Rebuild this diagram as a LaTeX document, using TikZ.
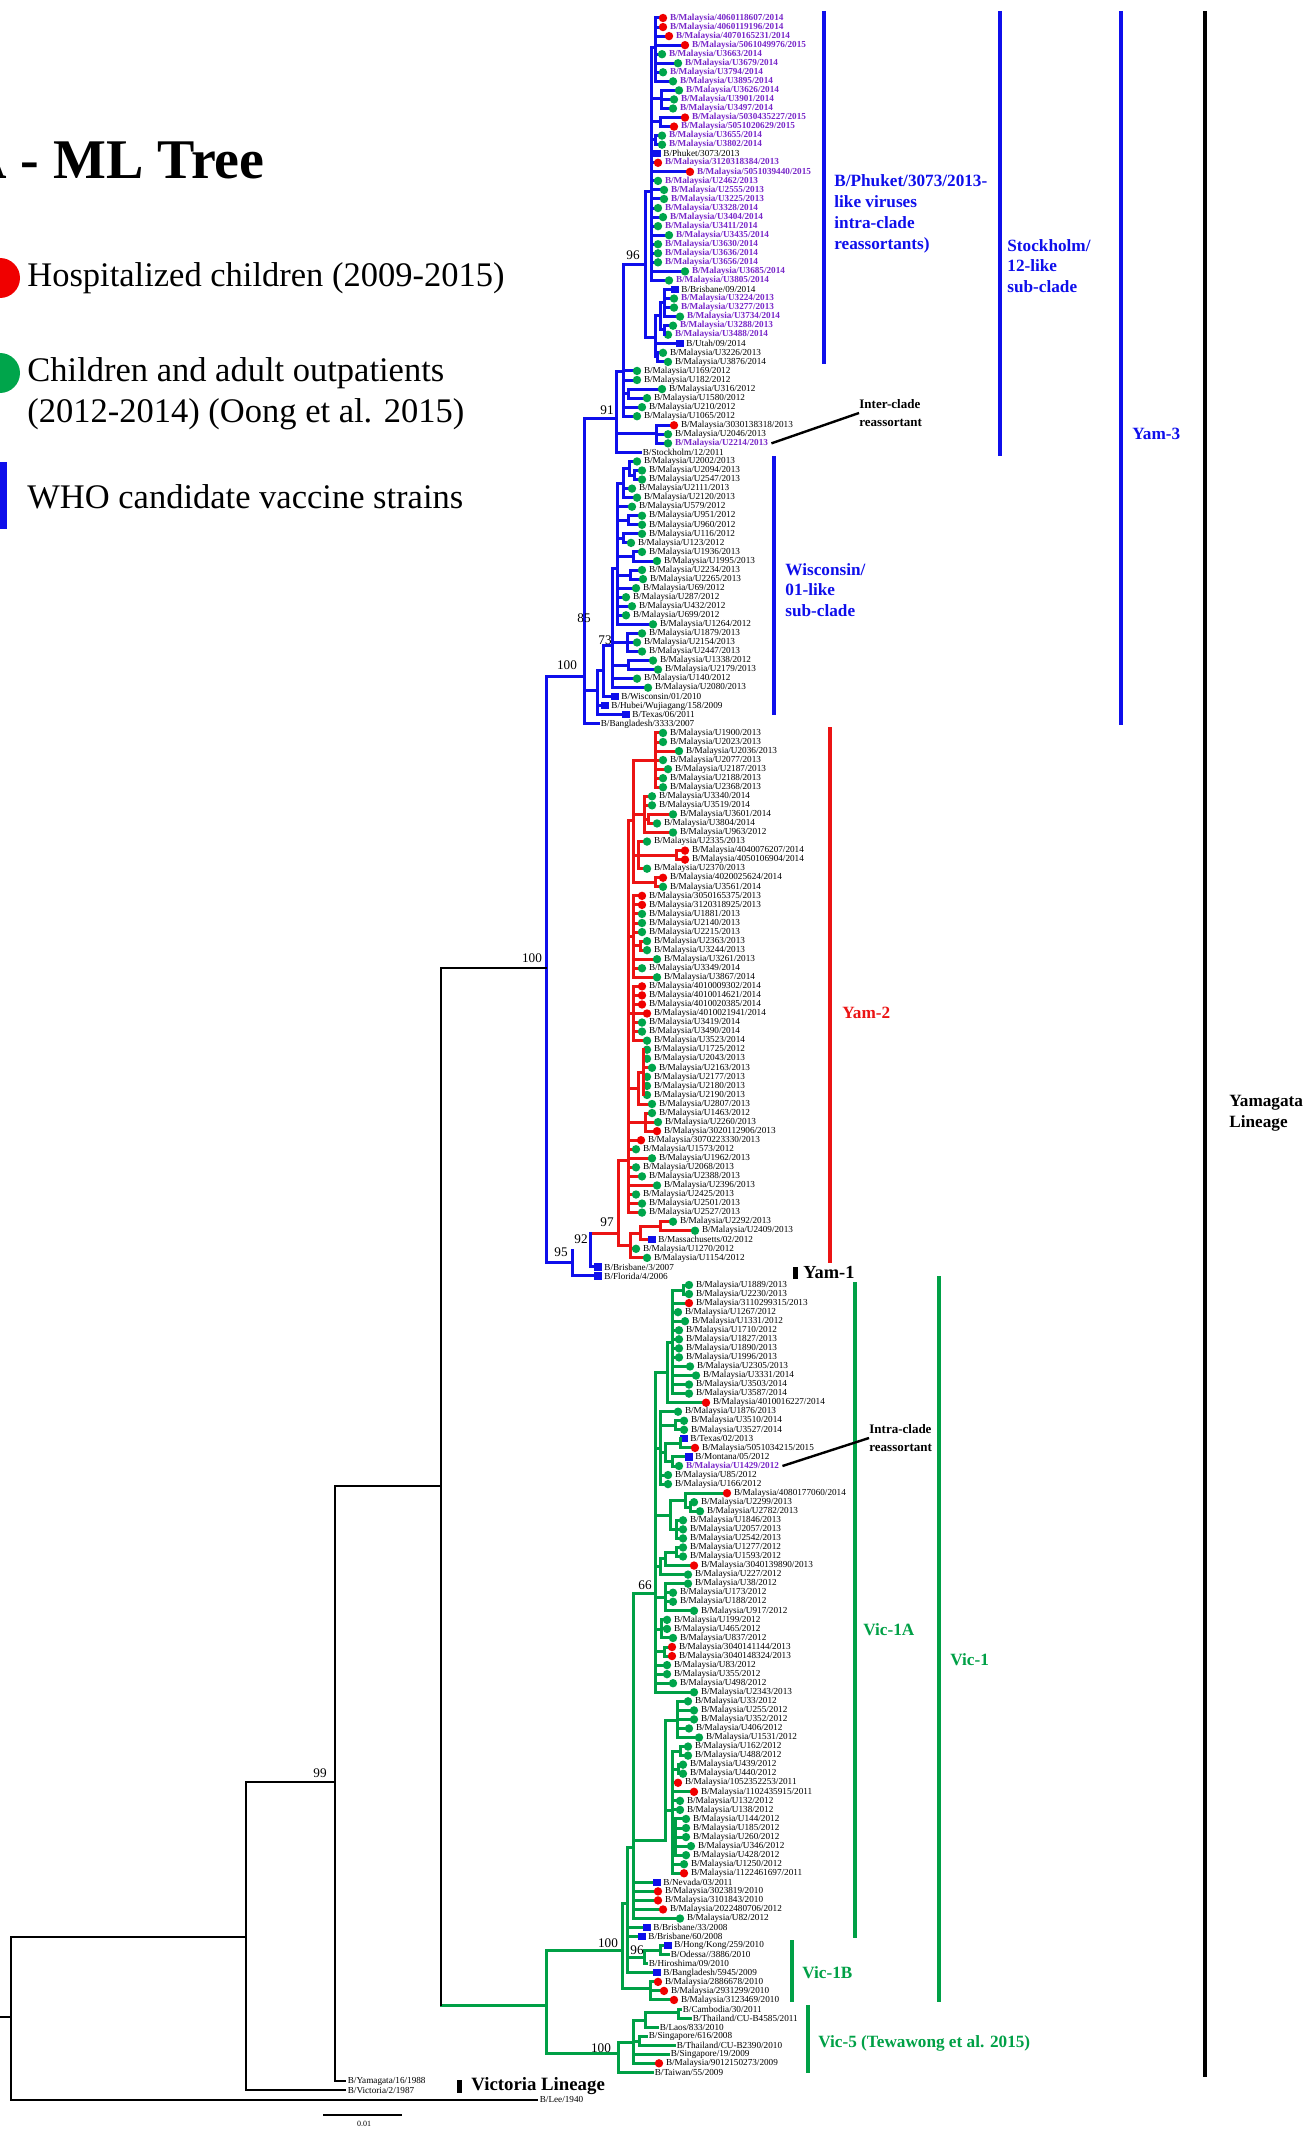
\documentclass[tikz,border=0pt]{standalone}
\usepackage{fontspec}
\setmainfont{Liberation Serif}
\definecolor{cblue}{RGB}{15,15,235}
\definecolor{cred}{RGB}{235,20,20}
\definecolor{cgreen}{RGB}{0,160,70}
\definecolor{cpurple}{RGB}{120,40,200}
\definecolor{cmred}{RGB}{240,0,0}
\definecolor{cmgreen}{RGB}{0,165,75}
\newcommand\brc{cblue}
\tikzset{
 br/.style={draw=\brc, line width=1.5pt, line cap=rect},
 mkr/.style={circle, fill=cmred, inner sep=0pt, minimum size=4.2pt},
 mkg/.style={circle, fill=cmgreen, inner sep=0pt, minimum size=4.2pt},
 mkb/.style={rectangle, fill=cblue, inner sep=0pt, minimum size=3.6pt},
 mkn/.style={inner sep=0pt, minimum size=0pt},
 labk/.style={inner sep=0pt, font=\fontsize{4.6}{5}\selectfont, text=black},
 labp/.style={inner sep=0pt, font=\fontsize{4.6}{5}\selectfont\bfseries, text=cpurple},
 bs/.style={inner sep=0pt, font=\fontsize{6.6}{7.5}\selectfont},
 brk/.style={line width=2pt},
 glab/.style={inner sep=0pt, anchor=west, font=\fontsize{8.6}{10.4}\selectfont\bfseries, align=left},
 leg/.style={inner sep=0pt, anchor=west, font=\fontsize{17.25}{20}\selectfont},
 note/.style={inner sep=0pt, anchor=west, font=\fontsize{6.5}{8.6}\selectfont\bfseries, align=left},
}
\newcommand\lf[6]{%
 \draw[br] (#2,{8.95+9.05*#1}) -- (#3,{8.95+9.05*#1});
 \node[mk#4] (m#1) at (#3,{8.95+9.05*#1}) {};
 \node[lab#5, anchor=west, xshift=1pt] (t#1) at (m#1.east) {#6};
}
\newcommand\nd[5]{\draw[br] (#1,#2) -- (#1,#3); \draw[br] (#4,#5) -- (#1,#5);}
\begin{document}
\begin{tikzpicture}[x=0.5pt,y=-0.5pt]
\useasboundingbox (0,0) rectangle (1310,2129);
\clip (0,0) rectangle (1310,2129);
% ---------------- title and legend
\node[inner sep=0pt, anchor=east, font=\fontsize{28}{32}\selectfont\bfseries] (title) at (265,160) {A - ML Tree};
\node[circle, fill=cmred, inner sep=0pt, minimum size=20pt] (lr) at (0,278) {};
\node[leg] (lrt) at (27,278) {Hospitalized children (2009-2015)};
\node[circle, fill=cmgreen, inner sep=0pt, minimum size=20pt] (lg) at (0,373) {};
\node[leg] (lgt) at (27,373) {Children and adult outpatients};
\node[leg] (lgt2) at (27,414) {(2012-2014) (Oong et al. 2015)};
\fill[cblue] (0,462) rectangle (7,529);
\node[leg] (lbt) at (27,497) {WHO candidate vaccine strains};
% ---------------- Yam-3 (blue)
\renewcommand\brc{cblue}
\lf{1}{655}{663}{r}{p}{B/Malaysia/4060118607/2014}
\lf{2}{655}{663}{r}{p}{B/Malaysia/4060119196/2014}
\lf{3}{655}{669}{r}{p}{B/Malaysia/4070165231/2014}
\lf{4}{655}{685}{r}{p}{B/Malaysia/5061049976/2015}
\lf{5}{655}{662}{g}{p}{B/Malaysia/U3663/2014}
\lf{6}{655}{678}{g}{p}{B/Malaysia/U3679/2014}
\lf{7}{655}{663}{g}{p}{B/Malaysia/U3794/2014}
\lf{8}{655}{673}{g}{p}{B/Malaysia/U3895/2014}
\lf{9}{661}{679}{g}{p}{B/Malaysia/U3626/2014}
\lf{10}{661}{674}{g}{p}{B/Malaysia/U3901/2014}
\lf{11}{661}{673}{g}{p}{B/Malaysia/U3497/2014}
\lf{12}{660}{685}{r}{p}{B/Malaysia/5030435227/2015}
\lf{13}{660}{674}{r}{p}{B/Malaysia/5051020629/2015}
\lf{14}{655}{662}{g}{p}{B/Malaysia/U3655/2014}
\lf{15}{655}{662}{g}{p}{B/Malaysia/U3802/2014}
\lf{16}{651}{657}{b}{k}{B/Phuket/3073/2013}
\lf{17}{651}{658}{r}{p}{B/Malaysia/3120318384/2013}
\lf{18}{651}{690}{r}{p}{B/Malaysia/5051039440/2015}
\lf{19}{651}{658}{g}{p}{B/Malaysia/U2462/2013}
\lf{20}{651}{664}{g}{p}{B/Malaysia/U2555/2013}
\lf{21}{651}{664}{g}{p}{B/Malaysia/U3225/2013}
\lf{22}{651}{658}{g}{p}{B/Malaysia/U3328/2014}
\lf{23}{651}{663}{g}{p}{B/Malaysia/U3404/2014}
\lf{24}{651}{658}{g}{p}{B/Malaysia/U3411/2014}
\lf{25}{651}{669}{g}{p}{B/Malaysia/U3435/2014}
\lf{26}{651}{658}{g}{p}{B/Malaysia/U3630/2014}
\lf{27}{651}{658}{g}{p}{B/Malaysia/U3636/2014}
\lf{28}{651}{658}{g}{p}{B/Malaysia/U3656/2014}
\lf{29}{651}{685}{g}{p}{B/Malaysia/U3685/2014}
\lf{30}{651}{669}{g}{p}{B/Malaysia/U3805/2014}
\lf{31}{664}{675}{b}{k}{B/Brisbane/09/2014}
\lf{32}{664}{674}{g}{p}{B/Malaysia/U3224/2013}
\lf{33}{664}{674}{g}{p}{B/Malaysia/U3277/2013}
\lf{34}{664}{680}{g}{p}{B/Malaysia/U3734/2014}
\lf{35}{664}{673}{g}{p}{B/Malaysia/U3288/2013}
\lf{36}{664}{668}{g}{p}{B/Malaysia/U3488/2014}
\lf{37}{655}{680}{b}{k}{B/Utah/09/2014}
\lf{38}{657}{663}{g}{k}{B/Malaysia/U3226/2013}
\lf{39}{657}{668}{g}{k}{B/Malaysia/U3876/2014}
\lf{40}{623}{637}{g}{k}{B/Malaysia/U169/2012}
\lf{41}{623}{637}{g}{k}{B/Malaysia/U182/2012}
\lf{42}{628}{662}{g}{k}{B/Malaysia/U316/2012}
\lf{43}{628}{647}{g}{k}{B/Malaysia/U1580/2012}
\lf{44}{623}{642}{g}{k}{B/Malaysia/U210/2012}
\lf{45}{623}{637}{g}{k}{B/Malaysia/U1065/2012}
\lf{46}{656}{674}{r}{k}{B/Malaysia/3030138318/2013}
\lf{47}{656}{668}{g}{k}{B/Malaysia/U2046/2013}
\lf{48}{656}{668}{g}{p}{B/Malaysia/U2214/2013}
\lf{49}{616}{640}{n}{k}{B/Stockholm/12/2011}
\nd{655}{18}{81.35}{651}{48}
\nd{661}{90.4}{108.5}{651}{99}
\nd{660}{117.55}{126.6}{651}{122}
\nd{655}{135.65}{144.7}{651}{140}
\nd{651}{48}{280.45}{645}{192}
\nd{664}{289.5}{316.65}{660}{303}
\nd{664}{325.7}{334.75}{660}{330}
\nd{660}{303}{330}{655}{316}
\nd{657}{352.85}{361.9}{655}{357}
\nd{655}{316}{357}{645}{338}
\nd{645}{192}{338}{623}{265}
\nd{628}{389.05}{398.1}{623}{393}
\nd{623}{265}{416.2}{616}{372}
\nd{656}{425.25}{443.35}{616}{433}
\nd{616}{372}{452.4}{584}{418}
% Wisconsin
\lf{50}{629}{637}{g}{k}{B/Malaysia/U2002/2013}
\lf{51}{634}{642}{g}{k}{B/Malaysia/U2094/2013}
\lf{52}{634}{642}{g}{k}{B/Malaysia/U2547/2013}
\lf{53}{623}{632}{g}{k}{B/Malaysia/U2111/2013}
\lf{54}{623}{637}{g}{k}{B/Malaysia/U2120/2013}
\lf{55}{617}{632}{g}{k}{B/Malaysia/U579/2012}
\lf{56}{628}{642}{g}{k}{B/Malaysia/U951/2012}
\lf{57}{628}{642}{g}{k}{B/Malaysia/U960/2012}
\lf{58}{623}{642}{g}{k}{B/Malaysia/U116/2012}
\lf{59}{623}{631}{g}{k}{B/Malaysia/U123/2012}
\lf{60}{633}{642}{g}{k}{B/Malaysia/U1936/2013}
\lf{61}{633}{657}{g}{k}{B/Malaysia/U1995/2013}
\lf{62}{630}{642}{g}{k}{B/Malaysia/U2234/2013}
\lf{63}{630}{643}{g}{k}{B/Malaysia/U2265/2013}
\lf{64}{617}{636}{g}{k}{B/Malaysia/U69/2012}
\lf{65}{617}{626}{g}{k}{B/Malaysia/U287/2012}
\lf{66}{617}{632}{g}{k}{B/Malaysia/U432/2012}
\lf{67}{617}{626}{g}{k}{B/Malaysia/U699/2012}
\lf{68}{617}{653}{g}{k}{B/Malaysia/U1264/2012}
\lf{69}{627}{642}{g}{k}{B/Malaysia/U1879/2013}
\lf{70}{627}{637}{g}{k}{B/Malaysia/U2154/2013}
\lf{71}{627}{642}{g}{k}{B/Malaysia/U2447/2013}
\lf{72}{628}{653}{g}{k}{B/Malaysia/U1338/2012}
\lf{73}{628}{658}{g}{k}{B/Malaysia/U2179/2013}
\lf{74}{612}{637}{g}{k}{B/Malaysia/U140/2012}
\lf{75}{612}{648}{g}{k}{B/Malaysia/U2080/2013}
\lf{76}{603}{615}{b}{k}{B/Wisconsin/01/2010}
\lf{77}{597}{605}{b}{k}{B/Hubei/Wujiagang/158/2009}
\lf{78}{597}{626}{b}{k}{B/Texas/06/2011}
\lf{79}{584}{598}{n}{k}{B/Bangladesh/3333/2007}
\nd{634}{470.5}{479.55}{629}{475}
\nd{629}{461.45}{475}{623}{468}
\nd{623}{468}{497.65}{617}{483}
\nd{628}{515.75}{524.8}{617}{520}
\nd{623}{533.85}{542.9}{617}{538}
\nd{633}{551.95}{561}{617}{556}
\nd{630}{570.05}{579.1}{617}{575}
\nd{617}{483}{624.35}{612}{568}
\nd{627}{633.4}{651.5}{612}{642}
\nd{628}{660.55}{669.6}{612}{665}
\nd{612}{568}{687.7}{603}{645}
\nd{603}{645}{696.75}{597}{670}
\nd{597}{670}{714.85}{584}{690}
\nd{584}{418}{723.9}{546}{676}
% ---------------- Yam-2 (red)
\renewcommand\brc{cred}
\lf{80}{655}{663}{g}{k}{B/Malaysia/U1900/2013}
\lf{81}{655}{663}{g}{k}{B/Malaysia/U2023/2013}
\lf{82}{655}{679}{g}{k}{B/Malaysia/U2036/2013}
\lf{83}{655}{663}{g}{k}{B/Malaysia/U2077/2013}
\lf{84}{655}{668}{g}{k}{B/Malaysia/U2187/2013}
\lf{85}{655}{663}{g}{k}{B/Malaysia/U2188/2013}
\lf{86}{655}{663}{g}{k}{B/Malaysia/U2368/2013}
\lf{87}{644}{652}{g}{k}{B/Malaysia/U3340/2014}
\lf{88}{644}{652}{g}{k}{B/Malaysia/U3519/2014}
\lf{89}{648}{673}{g}{k}{B/Malaysia/U3601/2014}
\lf{90}{648}{657}{g}{k}{B/Malaysia/U3804/2014}
\lf{91}{644}{673}{g}{k}{B/Malaysia/U963/2012}
\lf{92}{638}{647}{g}{k}{B/Malaysia/U2335/2013}
\lf{93}{676}{685}{r}{k}{B/Malaysia/4040076207/2014}
\lf{94}{676}{685}{r}{k}{B/Malaysia/4050106904/2014}
\lf{95}{638}{647}{g}{k}{B/Malaysia/U2370/2013}
\lf{96}{655}{663}{r}{k}{B/Malaysia/4020025624/2014}
\lf{97}{655}{663}{g}{k}{B/Malaysia/U3561/2014}
\lf{98}{633}{642}{r}{k}{B/Malaysia/3050165375/2013}
\lf{99}{633}{642}{r}{k}{B/Malaysia/3120318925/2013}
\lf{100}{633}{642}{g}{k}{B/Malaysia/U1881/2013}
\lf{101}{633}{642}{g}{k}{B/Malaysia/U2140/2013}
\lf{102}{633}{642}{g}{k}{B/Malaysia/U2215/2013}
\lf{103}{640}{647}{g}{k}{B/Malaysia/U2363/2013}
\lf{104}{640}{647}{g}{k}{B/Malaysia/U3244/2013}
\lf{105}{633}{657}{g}{k}{B/Malaysia/U3261/2013}
\lf{106}{633}{642}{g}{k}{B/Malaysia/U3349/2014}
\lf{107}{633}{657}{g}{k}{B/Malaysia/U3867/2014}
\lf{108}{633}{642}{r}{k}{B/Malaysia/4010009302/2014}
\lf{109}{633}{642}{r}{k}{B/Malaysia/4010014621/2014}
\lf{110}{633}{642}{r}{k}{B/Malaysia/4010020385/2014}
\lf{111}{633}{647}{r}{k}{B/Malaysia/4010021941/2014}
\lf{112}{633}{642}{g}{k}{B/Malaysia/U3419/2014}
\lf{113}{633}{642}{g}{k}{B/Malaysia/U3490/2014}
\lf{114}{633}{647}{g}{k}{B/Malaysia/U3523/2014}
\lf{115}{643}{647}{g}{k}{B/Malaysia/U1725/2012}
\lf{116}{643}{647}{g}{k}{B/Malaysia/U2043/2013}
\lf{117}{643}{652}{g}{k}{B/Malaysia/U2163/2013}
\lf{118}{643}{647}{g}{k}{B/Malaysia/U2177/2013}
\lf{119}{643}{647}{g}{k}{B/Malaysia/U2180/2013}
\lf{120}{643}{647}{g}{k}{B/Malaysia/U2190/2013}
\lf{121}{638}{652}{g}{k}{B/Malaysia/U2807/2013}
\lf{122}{645}{652}{g}{k}{B/Malaysia/U1463/2012}
\lf{123}{645}{658}{g}{k}{B/Malaysia/U2260/2013}
\lf{124}{645}{657}{r}{k}{B/Malaysia/3020112906/2013}
\lf{125}{628}{641}{r}{k}{B/Malaysia/3070223330/2013}
\lf{126}{628}{636}{g}{k}{B/Malaysia/U1573/2012}
\lf{127}{628}{652}{g}{k}{B/Malaysia/U1962/2013}
\lf{128}{628}{636}{g}{k}{B/Malaysia/U2068/2013}
\lf{129}{628}{642}{g}{k}{B/Malaysia/U2388/2013}
\lf{130}{628}{657}{g}{k}{B/Malaysia/U2396/2013}
\lf{131}{628}{636}{g}{k}{B/Malaysia/U2425/2013}
\lf{132}{628}{642}{g}{k}{B/Malaysia/U2501/2013}
\lf{133}{628}{642}{g}{k}{B/Malaysia/U2527/2013}
\lf{134}{660}{673}{g}{k}{B/Malaysia/U2292/2013}
\lf{135}{660}{695}{g}{k}{B/Malaysia/U2409/2013}
\lf{136}{640}{652}{b}{k}{B/Massachusetts/02/2012}
\lf{137}{630}{636}{g}{k}{B/Malaysia/U1270/2012}
\lf{138}{630}{647}{g}{k}{B/Malaysia/U1154/2012}
\nd{655}{732.95}{787.25}{633}{760}
\nd{648}{814.4}{823.45}{644}{819}
\nd{644}{796.3}{832.5}{633}{814}
\nd{676}{850.6}{859.65}{638}{855}
\nd{638}{841.55}{868.7}{633}{855}
\nd{655}{877.75}{886.8}{633}{882}
\nd{633}{760}{882}{628}{820}
\nd{640}{941.1}{950.15}{633}{945}
\nd{633}{895.85}{977.3}{628}{936}
\nd{633}{986.35}{1040.65}{628}{1013}
\nd{643}{1049.7}{1094.95}{638}{1072}
\nd{638}{1072}{1104}{628}{1088}
\nd{645}{1113.05}{1131.15}{628}{1122}
\nd{628}{820}{1212.6}{618}{1160}
\nd{660}{1221.65}{1230.7}{640}{1226}
\nd{640}{1226}{1239.75}{630}{1233}
\nd{630}{1233}{1257.85}{618}{1245}
\nd{618}{1160}{1245}{590}{1233}
% Yam-1 (blue)
\renewcommand\brc{cblue}
\lf{139}{590}{598}{b}{k}{B/Brisbane/3/2007}
\lf{140}{572}{598}{b}{k}{B/Florida/4/2006}
\draw[br] (590,1233) -- (590,1266.9);
\nd{572}{1250}{1275.95}{546}{1262}
\draw[br] (546,676) -- (546,1262);
% ---------------- Victoria (green)
\renewcommand\brc{cgreen}
\lf{141}{683}{689}{g}{k}{B/Malaysia/U1889/2013}
\lf{142}{683}{689}{g}{k}{B/Malaysia/U2230/2013}
\lf{143}{672}{689}{r}{k}{B/Malaysia/3110299315/2013}
\lf{144}{672}{678}{g}{k}{B/Malaysia/U1267/2012}
\lf{145}{672}{685}{g}{k}{B/Malaysia/U1331/2012}
\lf{146}{672}{679}{g}{k}{B/Malaysia/U1710/2012}
\lf{147}{672}{679}{g}{k}{B/Malaysia/U1827/2013}
\lf{148}{672}{679}{g}{k}{B/Malaysia/U1890/2013}
\lf{149}{672}{679}{g}{k}{B/Malaysia/U1996/2013}
\lf{150}{672}{690}{g}{k}{B/Malaysia/U2305/2013}
\lf{151}{672}{696}{g}{k}{B/Malaysia/U3331/2014}
\lf{152}{672}{689}{g}{k}{B/Malaysia/U3503/2014}
\lf{153}{672}{689}{g}{k}{B/Malaysia/U3587/2014}
\lf{154}{667}{706}{r}{k}{B/Malaysia/4010016227/2014}
\lf{155}{660}{678}{g}{k}{B/Malaysia/U1876/2013}
\lf{156}{675}{684}{g}{k}{B/Malaysia/U3510/2014}
\lf{157}{675}{684}{g}{k}{B/Malaysia/U3527/2014}
\lf{158}{680}{684}{b}{k}{B/Texas/02/2013}
\lf{159}{680}{695}{r}{k}{B/Malaysia/5051034215/2015}
\lf{160}{672}{689}{b}{k}{B/Montana/05/2012}
\lf{161}{672}{679}{g}{p}{B/Malaysia/U1429/2012}
\lf{162}{660}{668}{g}{k}{B/Malaysia/U85/2012}
\lf{163}{660}{668}{g}{k}{B/Malaysia/U166/2012}
\lf{164}{685}{727}{r}{k}{B/Malaysia/4080177060/2014}
\lf{165}{690}{694}{g}{k}{B/Malaysia/U2299/2013}
\lf{166}{690}{700}{g}{k}{B/Malaysia/U2782/2013}
\lf{167}{676}{683}{g}{k}{B/Malaysia/U1846/2013}
\lf{168}{676}{683}{g}{k}{B/Malaysia/U2057/2013}
\lf{169}{676}{683}{g}{k}{B/Malaysia/U2542/2013}
\lf{170}{676}{683}{g}{k}{B/Malaysia/U1277/2012}
\lf{171}{676}{683}{g}{k}{B/Malaysia/U1593/2012}
\lf{172}{665}{694}{r}{k}{B/Malaysia/3040139890/2013}
\lf{173}{660}{688}{g}{k}{B/Malaysia/U227/2012}
\lf{174}{665}{688}{g}{k}{B/Malaysia/U38/2012}
\lf{175}{665}{673}{g}{k}{B/Malaysia/U173/2012}
\lf{176}{665}{673}{g}{k}{B/Malaysia/U188/2012}
\lf{177}{665}{694}{g}{k}{B/Malaysia/U917/2012}
\lf{178}{661}{667}{g}{k}{B/Malaysia/U199/2012}
\lf{179}{661}{667}{g}{k}{B/Malaysia/U465/2012}
\lf{180}{661}{673}{g}{k}{B/Malaysia/U837/2012}
\lf{181}{664}{672}{r}{k}{B/Malaysia/3040141144/2013}
\lf{182}{664}{672}{r}{k}{B/Malaysia/3040148324/2013}
\lf{183}{655}{667}{g}{k}{B/Malaysia/U83/2012}
\lf{184}{655}{667}{g}{k}{B/Malaysia/U355/2012}
\lf{185}{655}{673}{g}{k}{B/Malaysia/U498/2012}
\lf{186}{655}{694}{g}{k}{B/Malaysia/U2343/2013}
\lf{187}{677}{688}{g}{k}{B/Malaysia/U33/2012}
\lf{188}{677}{694}{g}{k}{B/Malaysia/U255/2012}
\lf{189}{677}{694}{g}{k}{B/Malaysia/U352/2012}
\lf{190}{677}{689}{g}{k}{B/Malaysia/U406/2012}
\lf{191}{677}{699}{g}{k}{B/Malaysia/U1531/2012}
\lf{192}{680}{688}{g}{k}{B/Malaysia/U162/2012}
\lf{193}{680}{688}{g}{k}{B/Malaysia/U488/2012}
\lf{194}{678}{683}{g}{k}{B/Malaysia/U439/2012}
\lf{195}{678}{683}{g}{k}{B/Malaysia/U440/2012}
\lf{196}{672}{678}{r}{k}{B/Malaysia/1052352253/2011}
\lf{197}{672}{694}{r}{k}{B/Malaysia/1102435915/2011}
\lf{198}{672}{680}{g}{k}{B/Malaysia/U132/2012}
\lf{199}{672}{680}{g}{k}{B/Malaysia/U138/2012}
\lf{200}{675}{686}{g}{k}{B/Malaysia/U144/2012}
\lf{201}{675}{686}{g}{k}{B/Malaysia/U185/2012}
\lf{202}{675}{686}{g}{k}{B/Malaysia/U260/2012}
\lf{203}{675}{691}{g}{k}{B/Malaysia/U346/2012}
\lf{204}{675}{686}{g}{k}{B/Malaysia/U428/2012}
\lf{205}{672}{684}{g}{k}{B/Malaysia/U1250/2012}
\lf{206}{672}{684}{r}{k}{B/Malaysia/1122461697/2011}
\lf{207}{633}{657}{b}{k}{B/Nevada/03/2011}
\lf{208}{633}{658}{r}{k}{B/Malaysia/3023819/2010}
\lf{209}{633}{658}{r}{k}{B/Malaysia/3101843/2010}
\lf{210}{633}{663}{r}{k}{B/Malaysia/2022480706/2012}
\lf{211}{633}{680}{g}{k}{B/Malaysia/U82/2012}
\lf{212}{627}{647}{b}{k}{B/Brisbane/33/2008}
\lf{213}{627}{642}{b}{k}{B/Brisbane/60/2008}
\lf{214}{660}{668}{b}{k}{B/Hong/Kong/259/2010}
\lf{215}{660}{668}{n}{k}{B/Odessa//3886/2010}
\lf{216}{644}{646}{n}{k}{B/Hiroshima/09/2010}
\lf{217}{627}{657}{b}{k}{B/Bangladesh/5945/2009}
\lf{218}{650}{658}{r}{k}{B/Malaysia/2886678/2010}
\lf{219}{650}{664}{r}{k}{B/Malaysia/2931299/2010}
\lf{220}{650}{674}{r}{k}{B/Malaysia/3123469/2010}
\lf{221}{678}{680}{n}{k}{B/Cambodia/30/2011}
\lf{222}{678}{690}{n}{k}{B/Thailand/CU-B4585/2011}
\lf{223}{645}{657}{n}{k}{B/Laos/833/2010}
\lf{224}{639}{646}{n}{k}{B/Singapore/616/2008}
\lf{225}{639}{674}{n}{k}{B/Thailand/CU-B2390/2010}
\lf{226}{633}{668}{n}{k}{B/Singapore/19/2009}
\lf{227}{633}{659}{r}{k}{B/Malaysia/9012150273/2009}
\lf{228}{618}{652}{n}{k}{B/Taiwan/55/2009}
\nd{683}{1285}{1294.05}{672}{1290}
\nd{672}{1290}{1393.6}{667}{1342}
\nd{667}{1342}{1402.65}{655}{1372}
\nd{675}{1420.75}{1429.8}{660}{1425}
\nd{680}{1438.85}{1447.9}{665}{1443}
\nd{672}{1456.95}{1466}{665}{1461}
\nd{665}{1443}{1461}{660}{1452}
\nd{660}{1411.7}{1484.1}{655}{1448}
\nd{690}{1502.2}{1511.25}{685}{1507}
\nd{685}{1493.15}{1507}{670}{1500}
\nd{676}{1520.3}{1538.4}{670}{1529}
\nd{670}{1500}{1529}{655}{1515}
\nd{676}{1547.45}{1556.5}{665}{1552}
\nd{665}{1552}{1565.55}{660}{1558}
\nd{660}{1558}{1574.6}{655}{1566}
\nd{665}{1583.65}{1610.8}{655}{1597}
\nd{661}{1619.85}{1637.95}{655}{1629}
\nd{664}{1647}{1656.05}{655}{1651}
\nd{655}{1372}{1692.25}{633}{1593}
\nd{677}{1701.3}{1737.5}{665}{1720}
\nd{680}{1746.55}{1755.6}{672}{1751}
\nd{678}{1764.65}{1773.7}{672}{1769}
\nd{675}{1818.95}{1855.15}{672}{1837}
\nd{672}{1751}{1873.25}{665}{1810}
\nd{665}{1720}{1840}{633}{1840}
\nd{633}{1593}{1918.5}{627}{1847}
\nd{660}{1945.65}{1954.7}{644}{1950}
\nd{644}{1950}{1963.75}{627}{1957}
\nd{627}{1847}{1972.8}{622}{1903}
\nd{650}{1981.85}{1999.95}{622}{1988}
\nd{622}{1903}{1988}{546}{1950}
\nd{678}{2009}{2018.05}{645}{2012}
\nd{645}{2012}{2027.1}{633}{2020}
\nd{639}{2036.15}{2045.2}{633}{2041}
\nd{633}{2020}{2063.3}{618}{2042}
\nd{618}{2042}{2072.35}{546}{2053}
\nd{546}{1950}{2053}{441}{2005}
% ---------------- deep branches (black)
\renewcommand\brc{black}
\tikzset{br/.style={draw=black, line width=1pt, line cap=rect}}
\draw[br] (441,968) -- (546,968);
\nd{441}{968}{2005}{335}{1486}
\nd{335}{1486}{2081.4}{246}{1782}
\nd{246}{1782}{2090.45}{11}{1937}
\nd{11}{1937}{2099.5}{0}{2017}
\lf{229}{335}{345}{n}{k}{B/Yamagata/16/1988}
\lf{230}{246}{345}{n}{k}{B/Victoria/2/1987}
\lf{231}{11}{537}{n}{k}{B/Lee/1940}
% ---------------- bootstrap values
\node[bs] (b1) at (633,255) {96};
\node[bs] (b2) at (607,410) {91};
\node[bs] (b3) at (584,618) {85};
\node[bs] (b4) at (605,640) {73};
\node[bs] (b5) at (567,665) {100};
\node[bs] (b6) at (532,958) {100};
\node[bs] (b7) at (561,1252) {95};
\node[bs] (b8) at (581,1239) {92};
\node[bs] (b9) at (607,1222) {97};
\node[bs] (b10) at (645,1585) {66};
\node[bs] (b11) at (608,1943) {100};
\node[bs] (b12) at (637,1950) {96};
\node[bs] (b13) at (601,2048) {100};
\node[bs] (b14) at (320,1773) {99};
% ---------------- brackets and clade labels
\draw[brk, cblue] (824,11) -- (824,364);
\node[glab, text=cblue] (lphuket) at (834,214) {B/Phuket/3073/2013-\\like viruses\\intra-clade\\reassortants)};
\draw[brk, cblue] (1000,11) -- (1000,456);
\node[glab, text=cblue] (lstock) at (1007,266) {Stockholm/\\12-like\\sub-clade};
\draw[brk, cblue] (1121,11) -- (1121,725);
\node[glab, text=cblue] (lyam3) at (1132,434) {Yam-3};
\draw[brk, cblue] (774,456) -- (774,715);
\node[glab, text=cblue] (lwisc) at (785,590) {Wisconsin/\\01-like\\sub-clade};
\draw[brk, cred] (830,727) -- (830,1263);
\node[glab, text=cred] (lyam2) at (842,1013) {Yam-2};
\draw[line width=2.5pt] (795,1267) -- (795,1279);
\node[glab, font=\fontsize{9.2}{10.4}\selectfont\bfseries] (lyam1) at (803,1273) {Yam-1};
\draw[brk, cgreen] (855,1282) -- (855,1938);
\node[glab, text=cgreen] (lvic1a) at (863,1630) {Vic-1A};
\draw[brk, cgreen] (939,1276) -- (939,2002);
\node[glab, text=cgreen] (lvic1) at (950,1660) {Vic-1};
\draw[brk, cgreen] (792,1940) -- (792,2002);
\node[glab, text=cgreen] (lvic1b) at (802,1973) {Vic-1B};
\draw[brk, cgreen] (808,2005) -- (808,2073);
\node[glab, text=cgreen] (lvic5) at (818,2043) {Vic-5 (Tewawong et al. 2015)};
\draw[brk] (1205,11) -- (1205,2077);
\node[glab] (lyama) at (1229,1113) {Yamagata\\Lineage};
\draw[line width=2.5pt] (459,2080) -- (459,2093);
\node[glab, font=\fontsize{9.4}{10.4}\selectfont\bfseries] (lvict) at (471,2086) {Victoria Lineage};
% ---------------- notes
\node[note] (inter) at (859,413) {Inter-clade\\reassortant};
\draw[line width=1.2pt] (t48.east) ++(3,0) -- (inter.west);
\node[note] (intra) at (869,1438) {Intra-clade\\reassortant};
\draw[line width=1.2pt] (t161.east) ++(3,0) -- (intra.west);
% ---------------- scale bar
\draw[line width=0.8pt] (323,2115) -- (402,2115);
\node[inner sep=0pt, font=\fontsize{4}{5}\selectfont] (sc) at (364,2124) {0.01};
\end{tikzpicture}
\end{document}
